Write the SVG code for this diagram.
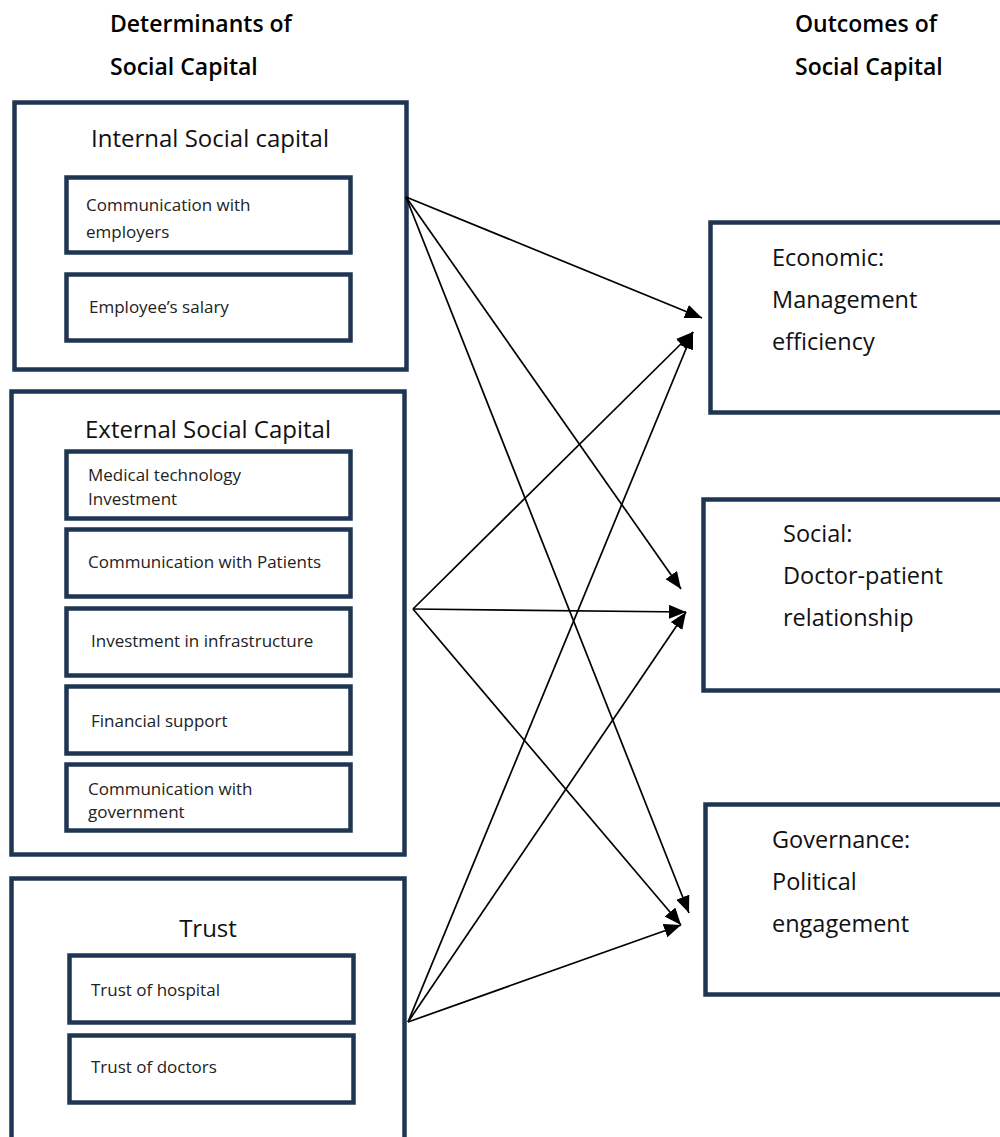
<svg xmlns="http://www.w3.org/2000/svg" width="1000" height="1137" viewBox="0 0 1000 1137">
<style>
  .box { fill: #ffffff; stroke: #1f3653; stroke-width: 4.5; }
  .sub { fill: #ffffff; stroke: #1f3653; stroke-width: 4.5; }
  .hdr { font-family: "Open Sans", "Liberation Sans", sans-serif; font-weight: 600; font-size: 23px; fill: #000; }
  .ttl { font-family: "Open Sans", "Liberation Sans", sans-serif; font-size: 24px; fill: #111; }
  .out { font-family: "Open Sans", "Liberation Sans", sans-serif; font-size: 23.5px; fill: #111; }
  .sm { font-family: "Open Sans", "Liberation Sans", sans-serif; font-size: 17px; fill: #222; }
  .conn { stroke: #000; stroke-width: 1.7; fill: none; marker-end: url(#arrow); }
</style>
<defs>
  <marker id="arrow" markerUnits="userSpaceOnUse" markerWidth="17" markerHeight="14" refX="17" refY="7" orient="auto">
    <path d="M0,0 L17,7 L0,14 z" fill="#000"/>
  </marker>
</defs>
<rect width="1000" height="1137" fill="#ffffff"/>

<g id="headers">
  <text class="hdr" x="110" y="32">Determinants of</text>
  <text class="hdr" x="110" y="75">Social Capital</text>
  <text class="hdr" x="795" y="32">Outcomes of</text>
  <text class="hdr" x="795" y="75">Social Capital</text>
</g>

<g id="internal">
  <rect class="box" x="14.5" y="102.5" width="392" height="267"/>
  <text class="ttl" x="210" y="147" text-anchor="middle">Internal Social capital</text>
  <g id="comm-employers">
    <rect class="sub" x="66.5" y="177.5" width="284" height="75"/>
    <text class="sm" x="86" y="211">Communication with</text>
    <text class="sm" x="86" y="238">employers</text>
  </g>
  <g id="salary">
    <rect class="sub" x="66.5" y="274.5" width="284" height="66"/>
    <text class="sm" x="89" y="313">Employee’s salary</text>
  </g>
</g>

<g id="external">
  <rect class="box" x="11.5" y="391.5" width="393" height="463"/>
  <text class="ttl" x="208" y="438" text-anchor="middle">External Social Capital</text>
  <g id="med-tech">
    <rect class="sub" x="66.5" y="451.5" width="284" height="67"/>
    <text class="sm" x="88" y="481">Medical technology</text>
    <text class="sm" x="88" y="505">Investment</text>
  </g>
  <g id="comm-patients">
    <rect class="sub" x="66.5" y="529.5" width="284" height="67"/>
    <text class="sm" x="88" y="568">Communication with Patients</text>
  </g>
  <g id="infrastructure">
    <rect class="sub" x="66.5" y="608.5" width="284" height="67"/>
    <text class="sm" x="91" y="647">Investment in infrastructure</text>
  </g>
  <g id="financial">
    <rect class="sub" x="66.5" y="686.5" width="284" height="67"/>
    <text class="sm" x="91" y="727">Financial support</text>
  </g>
  <g id="comm-government">
    <rect class="sub" x="66.5" y="764.5" width="284" height="66"/>
    <text class="sm" x="88" y="795">Communication with</text>
    <text class="sm" x="88" y="818">government</text>
  </g>
</g>

<g id="trust">
  <rect class="box" x="11.5" y="878.5" width="393" height="300"/>
  <text class="ttl" x="208" y="937" text-anchor="middle">Trust</text>
  <g id="trust-hospital">
    <rect class="sub" x="69.5" y="955.5" width="284" height="67"/>
    <text class="sm" x="91" y="996">Trust of hospital</text>
  </g>
  <g id="trust-doctors">
    <rect class="sub" x="69.5" y="1035.5" width="284" height="67"/>
    <text class="sm" x="91" y="1073">Trust of doctors</text>
  </g>
</g>

<g id="economic">
  <rect class="box" x="710.5" y="222.5" width="320" height="190"/>
  <text class="out" x="772" y="266">Economic:</text>
  <text class="out" x="772" y="308">Management</text>
  <text class="out" x="772" y="350">efficiency</text>
</g>

<g id="social">
  <rect class="box" x="703.5" y="499.5" width="320" height="191"/>
  <text class="out" x="783" y="542">Social:</text>
  <text class="out" x="783" y="584">Doctor-patient</text>
  <text class="out" x="783" y="626">relationship</text>
</g>

<g id="governance">
  <rect class="box" x="705.5" y="804.5" width="320" height="190"/>
  <text class="out" x="772" y="848">Governance:</text>
  <text class="out" x="772" y="890">Political</text>
  <text class="out" x="772" y="932">engagement</text>
</g>

<g id="connectors">
  <line class="conn" x1="406" y1="197" x2="702" y2="318"/>
  <line class="conn" x1="406" y1="197" x2="681" y2="589"/>
  <line class="conn" x1="406" y1="197" x2="689" y2="913"/>
  <line class="conn" x1="413" y1="609" x2="693" y2="332"/>
  <line class="conn" x1="413" y1="609" x2="686" y2="612"/>
  <line class="conn" x1="413" y1="609" x2="681" y2="925"/>
  <line class="conn" x1="408" y1="1022" x2="693" y2="332"/>
  <line class="conn" x1="408" y1="1022" x2="686" y2="612"/>
  <line class="conn" x1="408" y1="1022" x2="681" y2="925"/>
</g>
</svg>
